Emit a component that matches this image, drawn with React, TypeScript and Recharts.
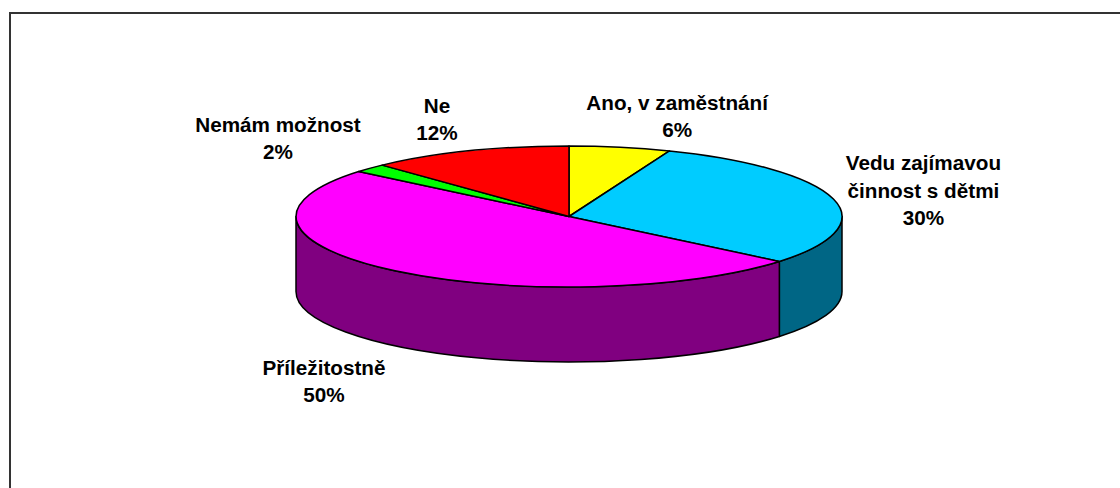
import React from "react";
import { PieChart, Pie } from "recharts";

const categories = ["Ano, v zaměstnání", "Vedu zajímavou činnost s dětmi", "Příležitostně", "Nemám možnost", "Ne"];
const labelLines = [["Ano, v zaměstnání"], ["Vedu zajímavou", "činnost s dětmi"], ["Příležitostně"], ["Nemám možnost"], ["Ne"]];
const values = [6, 30, 50, 2, 12];
const topColors = ["#FFFF00", "#00CCFF", "#FF00FF", "#00FF00", "#FF0000"];
const sideColors = ["#808000", "#006685", "#800080", "#008000", "#800000"];

const labelOffsets = [
  [57, -31],
  [90, -8.5],
  [-71, 110],
  [-92, -30],
  [-31.5, -32],
];

const CX = 569;
const CY = 216.5;
const RX = 273;
const SQUASH = 70.5 / 273;
const DEPTH = 75;
const LINE_H = 27.5;

const rad = (d: number) => (d * Math.PI) / 180;
const px = (cx: number, r: number, a: number) => cx + r * Math.cos(rad(a));
const py = (cy: number, r: number, a: number) => cy - r * SQUASH * Math.sin(rad(a));

const table = categories.map((name, i) => ({
  name,
  value: values[i],
  fill: topColors[i],
  side: sideColors[i],
  idx: i,
}));

function TopSlice(props: any) {
  const { cx, cy, outerRadius: r, startAngle, endAngle, fill } = props;
  const large = Math.abs(endAngle - startAngle) > 180 ? 1 : 0;
  const d = `M${cx},${cy} L${px(cx, r, startAngle)},${py(cy, r, startAngle)} A${r},${r * SQUASH} 0 ${large} 1 ${px(cx, r, endAngle)},${py(cy, r, endAngle)} Z`;
  return <path d={d} fill={fill} stroke="#000" strokeWidth={1.5} strokeLinejoin="round" />;
}

function SideSlice(props: any) {
  const { cx, cy, outerRadius: r, startAngle, endAngle } = props;
  const side = props.side ?? props.payload?.side;
  // Angles run clockwise from 90 to -270; the wall shows only where the rim faces the viewer (0 to -180).
  const a0 = Math.min(startAngle, 0);
  const a1 = Math.max(endAngle, -180);
  if (a0 <= a1) return <g />;
  const rY = r * SQUASH;
  const d = `M${px(cx, r, a0)},${py(cy, r, a0)} A${r},${rY} 0 0 1 ${px(cx, r, a1)},${py(cy, r, a1)} L${px(cx, r, a1)},${py(cy, r, a1) + DEPTH} A${r},${rY} 0 0 0 ${px(cx, r, a0)},${py(cy, r, a0) + DEPTH} Z`;
  return <path d={d} fill={side} stroke="#000" strokeWidth={1.5} strokeLinejoin="round" />;
}

function SliceLabel(props: any) {
  const { cx, cy, outerRadius: r, midAngle, index } = props;
  const lines = [...labelLines[index], `${values[index]}%`];
  const [dx, dy] = labelOffsets[index];
  const x = px(cx, r, midAngle) + dx;
  const y = py(cy, r, midAngle) + dy;
  const top = y - ((lines.length - 1) * LINE_H) / 2;
  return (
    <text
      x={x}
      y={top}
      textAnchor="middle"
      fontFamily='"Liberation Sans", Arial, sans-serif'
      fontWeight={700}
      fontSize={20.7}
      fill="#000"
    >
      {lines.map((line, i) => (
        <tspan key={i} x={x} y={top + i * LINE_H} dy="0.36em">
          {line}
        </tspan>
      ))}
    </text>
  );
}

export default function App() {
  return (
    <div style={{ position: "absolute", left: 0, top: 0, width: 1120, height: 488, background: "#fff", overflow: "hidden" }}>
      <div
        style={{
          position: "absolute",
          left: 9,
          top: 12,
          right: 0,
          bottom: 0,
          borderLeft: "2px solid #333",
          borderTop: "2px solid #333",
        }}
      />
      <div style={{ position: "absolute", left: 0, top: 0 }}>
        <PieChart width={1120} height={488} margin={{ top: 0, right: 0, bottom: 0, left: 0 }}>
          <Pie
            data={table}
            dataKey="value"
            nameKey="name"
            cx={CX}
            cy={CY}
            outerRadius={RX}
            startAngle={90}
            endAngle={-270}
            stroke="none"
            isAnimationActive={false}
            shape={SideSlice}
            label={false}
            labelLine={false}
          />
          <Pie
            data={table}
            dataKey="value"
            nameKey="name"
            cx={CX}
            cy={CY}
            outerRadius={RX}
            startAngle={90}
            endAngle={-270}
            stroke="none"
            isAnimationActive={false}
            shape={TopSlice}
            label={SliceLabel}
            labelLine={false}
          />
        </PieChart>
      </div>
    </div>
  );
}
